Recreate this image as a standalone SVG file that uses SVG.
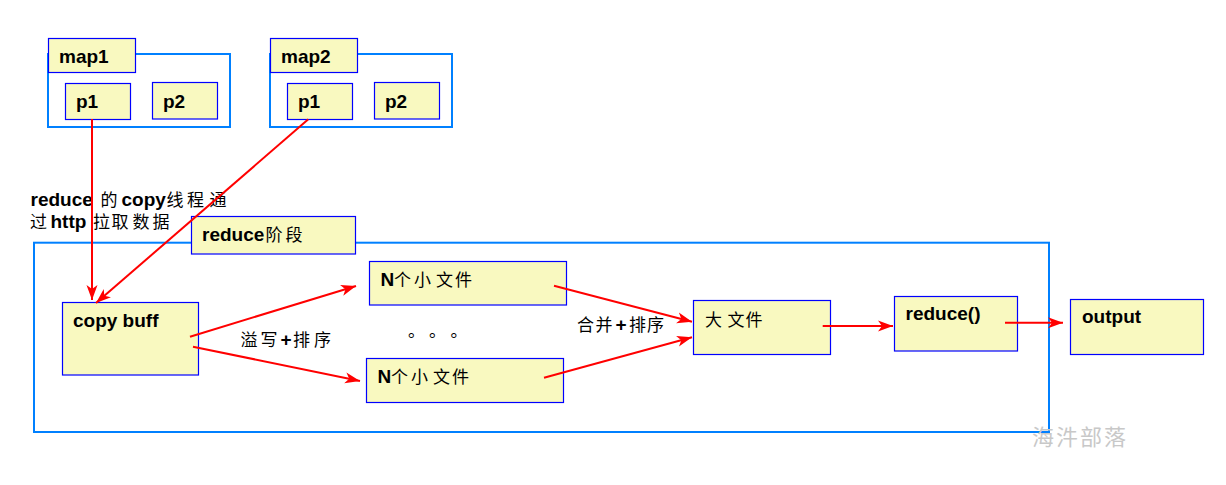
<svg xmlns="http://www.w3.org/2000/svg" width="1226" height="485" viewBox="0 0 1226 485">
<style>
.outer{fill:none;stroke:#0080ff;stroke-width:2}
.box{fill:#f9f9c0;stroke:#0000ff;stroke-width:1.2}
.lat{font-family:"Liberation Sans",Arial,sans-serif;font-weight:bold;font-size:19px;fill:#000}
.cjk{font-family:"Noto Sans CJK SC","Noto Sans",sans-serif;font-weight:normal;font-size:17px;fill:#000}
.conn{stroke:#ff0000;stroke-width:2;fill:none}
.wm{font-family:"Noto Sans CJK SC",sans-serif;font-size:22px;fill:#c8c8c8}
</style>
<defs>
<marker id="arr" markerUnits="userSpaceOnUse" markerWidth="16" markerHeight="12" refX="15" refY="6" orient="auto">
<path d="M0,0.5 L15,6 L0,11.5 L4,6 Z" fill="#ff0000"/>
</marker>
</defs>
<rect width="1226" height="485" fill="#ffffff"/>

<g id="map1">
<rect class="outer" x="48" y="54" width="182" height="73"/>
<rect class="box" x="48.5" y="38.5" width="87" height="34"/>
<text class="lat" x="59" y="63">map1</text>
<g id="map1-p1"><rect class="box" x="65.5" y="83.5" width="65" height="36"/><text class="lat" x="76" y="108">p1</text></g>
<g id="map1-p2"><rect class="box" x="152.5" y="82.5" width="65" height="36.5"/><text class="lat" x="163" y="108">p2</text></g>
</g>

<g id="map2">
<rect class="outer" x="270" y="54" width="182" height="73"/>
<rect class="box" x="270.5" y="38.5" width="87" height="34"/>
<text class="lat" x="281" y="63">map2</text>
<g id="map2-p1"><rect class="box" x="287.5" y="83.5" width="65" height="36"/><text class="lat" x="298" y="108">p1</text></g>
<g id="map2-p2"><rect class="box" x="374.5" y="82.5" width="65" height="36.5"/><text class="lat" x="385" y="108">p2</text></g>
</g>

<g id="note">
<text y="206"><tspan class="lat" x="30.5">reduce</tspan><tspan class="cjk" x="100.5">的</tspan><tspan class="lat" x="121.5">copy</tspan><tspan class="cjk" x="166.5 187 209.5">线程通</tspan></text>
<text y="228"><tspan class="cjk" x="30">过</tspan><tspan class="lat" x="50.5">http</tspan><tspan class="cjk" x="93 111.5 132.5 152.5">拉取数据</tspan></text>
</g>

<g id="reduce-stage">
<rect class="outer" x="34" y="242.7" width="1015" height="189.3"/>
<rect class="box" x="191.5" y="216.5" width="164" height="37.5"/>
<text y="241"><tspan class="lat" x="202">reduce</tspan><tspan class="cjk" x="265.5 285.5">阶段</tspan></text>
</g>

<g id="copybuff">
<rect class="box" x="62.5" y="302.5" width="136" height="72.5"/>
<text class="lat" x="73" y="327">copy buff</text>
</g>

<g id="small1">
<rect class="box" x="369.5" y="261.5" width="197" height="43.5"/>
<text y="286"><tspan class="lat" x="380.5">N</tspan><tspan class="cjk" x="394 414 436 455">个小文件</tspan></text>
</g>

<g id="small2">
<rect class="box" x="366.5" y="358.5" width="197" height="44"/>
<text y="382.5"><tspan class="lat" x="377.5">N</tspan><tspan class="cjk" x="391 411 433 452">个小文件</tspan></text>
</g>

<text class="cjk" y="337" x="408 429 450.5">。。。</text>

<g id="bigfile">
<rect class="box" x="693.5" y="300.5" width="137" height="54"/>
<text class="cjk" y="325.5" x="705 727.5 745.5">大文件</text>
</g>

<g id="reducefn">
<rect class="box" x="894.5" y="296.5" width="123" height="54.5"/>
<text class="lat" x="905.5" y="320">reduce()</text>
</g>

<g id="output">
<rect class="box" x="1070.5" y="299.5" width="133" height="55"/>
<text class="lat" x="1082" y="322.5">output</text>
</g>

<g id="connectors">
<line class="conn" x1="92" y1="119" x2="92" y2="300" marker-end="url(#arr)"/>
<line class="conn" x1="308.3" y1="119.3" x2="96" y2="303" marker-end="url(#arr)"/>
<line class="conn" x1="190" y1="336.7" x2="356" y2="286" marker-end="url(#arr)"/>
<line class="conn" x1="193" y1="346.7" x2="360" y2="381" marker-end="url(#arr)"/>
<line class="conn" x1="554" y1="285.7" x2="692" y2="321.7" marker-end="url(#arr)"/>
<line class="conn" x1="544" y1="377.7" x2="692" y2="337.3" marker-end="url(#arr)"/>
<line class="conn" x1="822.7" y1="326" x2="893" y2="326" marker-end="url(#arr)"/>
<line class="conn" x1="1005" y1="322.7" x2="1063" y2="322.7" marker-end="url(#arr)"/>
</g>

<text y="345.5"><tspan class="cjk" x="240.5 260.5">溢写</tspan><tspan class="lat" x="280.5">+</tspan><tspan class="cjk" x="293 314">排序</tspan></text>
<text y="331"><tspan class="cjk" x="577 595.5">合并</tspan><tspan class="lat" x="615.5">+</tspan><tspan class="cjk" x="629 647">排序</tspan></text>

<text class="wm" x="1032" y="445" textLength="94">海汼部落</text>
</svg>
